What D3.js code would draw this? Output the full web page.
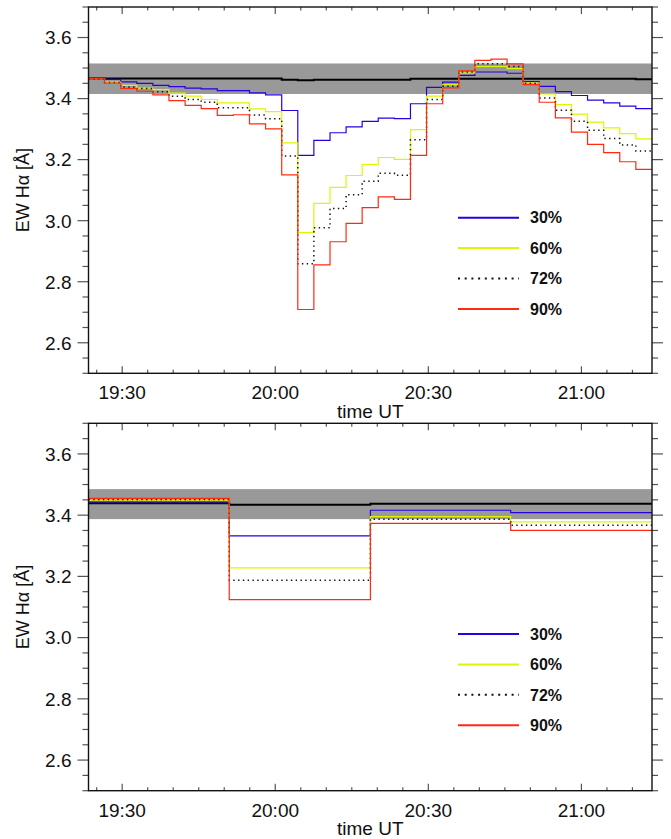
<!DOCTYPE html>
<html><head><meta charset="utf-8">
<script src="https://cdn.jsdelivr.net/npm/d3@7"></script>
<style>
body{margin:0;background:#fff;}
svg{display:block;}
text{font-family:"Liberation Sans",Arial,Helvetica,sans-serif;fill:#111;}
</style>
</head><body>
<svg id="c" width="671" height="839"></svg>
<script>
// ---------------- data ----------------
const seriesNames  = ["30%", "60%", "72%", "90%"];
const seriesColors = ["#2a00e0", "#e0f500", "#111111", "#ff2a10"];
const seriesDash   = [null, null, "1.4,3.4", null];

const xTickLabels = ["19:30", "20:00", "20:30", "21:00"];
const yTickValues = [2.6, 2.8, 3.0, 3.2, 3.4, 3.6];
const xDomain = ["19:23:24", "21:13:50"];
const yDomain = [2.5, 3.7];

// top panel: bin start times
const topTimes = ["19:23:24","19:26:33","19:29:43","19:32:52","19:36:01","19:39:10","19:42:20",
  "19:45:29","19:48:38","19:51:48","19:54:57","19:58:06","20:01:16","20:04:25","20:07:34",
  "20:10:44","20:13:53","20:17:02","20:20:11","20:23:21","20:26:30","20:29:39","20:32:49",
  "20:35:58","20:39:07","20:42:17","20:45:26","20:48:35","20:51:44","20:54:54","20:58:03",
  "21:01:12","21:04:22","21:07:31","21:10:40"];
const topEnd = "21:13:50";
const topBand = [3.415, 3.515];
const topBlack = [3.466,3.466,3.466,3.466,3.466,3.466,3.466,3.466,3.466,3.466,3.466,3.466,
  3.462,3.460,3.462,3.462,3.462,3.462,3.462,3.462,3.465,3.465,3.465,3.465,3.465,3.465,3.465,
  3.465,3.465,3.465,3.465,3.465,3.465,3.465,3.463];
const top30 = [3.466,3.463,3.455,3.450,3.443,3.439,3.434,3.432,3.426,3.426,3.419,3.412,
  3.361,3.214,3.263,3.288,3.307,3.325,3.336,3.334,3.383,3.437,3.454,3.476,3.487,3.487,3.483,
  3.456,3.440,3.423,3.410,3.395,3.386,3.375,3.367];
const top60 = [3.465,3.454,3.443,3.434,3.429,3.418,3.408,3.397,3.386,3.386,3.366,3.357,
  3.255,2.961,3.057,3.109,3.148,3.184,3.207,3.201,3.298,3.408,3.446,3.484,3.505,3.505,3.498,
  3.451,3.415,3.380,3.349,3.323,3.304,3.285,3.268];
const top72 = [3.465,3.453,3.438,3.433,3.422,3.408,3.397,3.388,3.370,3.370,3.346,3.334,
  3.212,2.859,2.977,3.040,3.085,3.129,3.155,3.149,3.265,3.397,3.440,3.487,3.514,3.514,3.505,
  3.449,3.402,3.362,3.326,3.296,3.269,3.248,3.228];
const top90 = [3.465,3.451,3.433,3.424,3.412,3.393,3.378,3.367,3.345,3.347,3.317,3.301,
  3.150,2.709,2.855,2.931,2.991,3.043,3.078,3.070,3.214,3.383,3.435,3.491,3.525,3.529,3.514,
  3.446,3.388,3.337,3.290,3.250,3.223,3.193,3.168];

// bottom panel
const botTimes = ["19:23:24","19:50:59","20:18:39","20:46:08"];
const botEnd = "21:13:50";
const botBand = [3.387, 3.485];
const botBlack = [3.439, 3.434, 3.437, 3.437];
const bot30 = [3.443, 3.332, 3.416, 3.408];
const bot60 = [3.449, 3.228, 3.395, 3.378];
const bot72 = [3.451, 3.187, 3.387, 3.367];
const bot90 = [3.455, 3.124, 3.373, 3.350];

// ---------------- drawing ----------------
const toMin = s => { const p = s.split(":").map(Number); return p[0]*60 + p[1] + (p[2]||0)/60; };
const svg = d3.select("#c");
const L = 88.5, R = 652;
const x = d3.scaleLinear().domain(xDomain.map(toMin)).range([L, R]);

function panel(top, bottom, times, end, band, black, series, clipId) {
  const y = d3.scaleLinear().domain(yDomain).range([bottom, top]);
  const g = svg.append("g");
  g.append("clipPath").attr("id", clipId).append("rect")
    .attr("x", L).attr("y", top).attr("width", R - L).attr("height", bottom - top);
  const plot = g.append("g").attr("clip-path", `url(#${clipId})`);

  plot.append("rect").attr("x", L).attr("width", R - L)
    .attr("y", y(band[1])).attr("height", y(band[0]) - y(band[1])).attr("fill", "#999999");

  const tm = times.map(toMin), te = toMin(end);
  const mk = vals => { const pts = vals.map((v, i) => [tm[i], v]); pts.push([te, vals[vals.length-1]]); return pts; };
  const line = d3.line().x(d => x(d[0])).y(d => y(d[1])).curve(d3.curveStepAfter);

  plot.append("path").attr("d", line(mk(black))).attr("fill", "none")
    .attr("stroke", "#000").attr("stroke-width", 2);
  series.forEach((vals, i) => {
    plot.append("path").attr("d", line(mk(vals))).attr("fill", "none")
      .attr("stroke", seriesColors[i]).attr("stroke-width", i === 2 ? 1.5 : 1.2)
      .attr("stroke-dasharray", seriesDash[i]);
  });

  // y ticks (outward, both sides)
  const minorY = d3.range(0, 25).map(k => +(yDomain[0] + k*0.05).toFixed(2));
  const tickG = g.append("g").attr("stroke", "#555").attr("stroke-width", 1.2);
  minorY.forEach(v => {
    const major = yTickValues.some(t => Math.abs(t - v) < 1e-6);
    const len = major ? 11 : 6;
    tickG.append("line").attr("x1", L - len).attr("x2", L).attr("y1", y(v)).attr("y2", y(v));
    tickG.append("line").attr("x1", R).attr("x2", R + len).attr("y1", y(v)).attr("y2", y(v));
  });
  yTickValues.forEach(v => {
    g.append("text").attr("x", 71.5).attr("y", y(v)).attr("dy", "0.36em")
      .attr("text-anchor", "end").attr("font-size", 19).text(d3.format(".1f")(v));
  });

  // x ticks (inward, top and bottom)
  const majorX = xTickLabels.map(toMin);
  const minorX = d3.range(1165, 1275, 5);
  minorX.forEach(t => {
    const major = majorX.some(m => Math.abs(m - t) < 1e-6);
    const len = major ? 7 : 3.5;
    tickG.append("line").attr("x1", x(t)).attr("x2", x(t)).attr("y1", bottom).attr("y2", bottom - len);
    tickG.append("line").attr("x1", x(t)).attr("x2", x(t)).attr("y1", top).attr("y2", top + len);
  });
  xTickLabels.forEach(s => {
    g.append("text").attr("x", x(toMin(s))).attr("y", bottom + 26)
      .attr("text-anchor", "middle").attr("font-size", 19).text(s);
  });
  g.append("text").attr("x", (L + R)/2).attr("y", bottom + 44.5)
    .attr("text-anchor", "middle").attr("font-size", 19).text("time UT");

  // frame
  g.append("rect").attr("x", L).attr("y", top).attr("width", R - L).attr("height", bottom - top)
    .attr("fill", "none").attr("stroke", "#111").attr("stroke-width", 1.4);

  // y title
  g.append("text").attr("transform", `translate(29,${(top+bottom)/2}) rotate(-90)`)
    .attr("text-anchor", "middle").attr("font-size", 18).text("EW Hα [Å]");

  // legend
  seriesNames.forEach((n, i) => {
    const ly = top + 210.7 + i*30.4;
    g.append("line").attr("x1", 458).attr("x2", 519).attr("y1", ly).attr("y2", ly)
      .attr("stroke", seriesColors[i]).attr("stroke-width", 2)
      .attr("stroke-dasharray", i === 2 ? "2,4.7" : null);
    g.append("text").attr("x", 530).attr("y", ly).attr("dy", "0.36em")
      .attr("font-size", 16).attr("font-weight", "bold").text(n);
  });
}

panel(7, 373.3, topTimes, topEnd, topBand, topBlack, [top30, top60, top72, top90], "clipTop");
panel(423.3, 790.7, botTimes, botEnd, botBand, botBlack, [bot30, bot60, bot72, bot90], "clipBot");
</script>
</body></html>
